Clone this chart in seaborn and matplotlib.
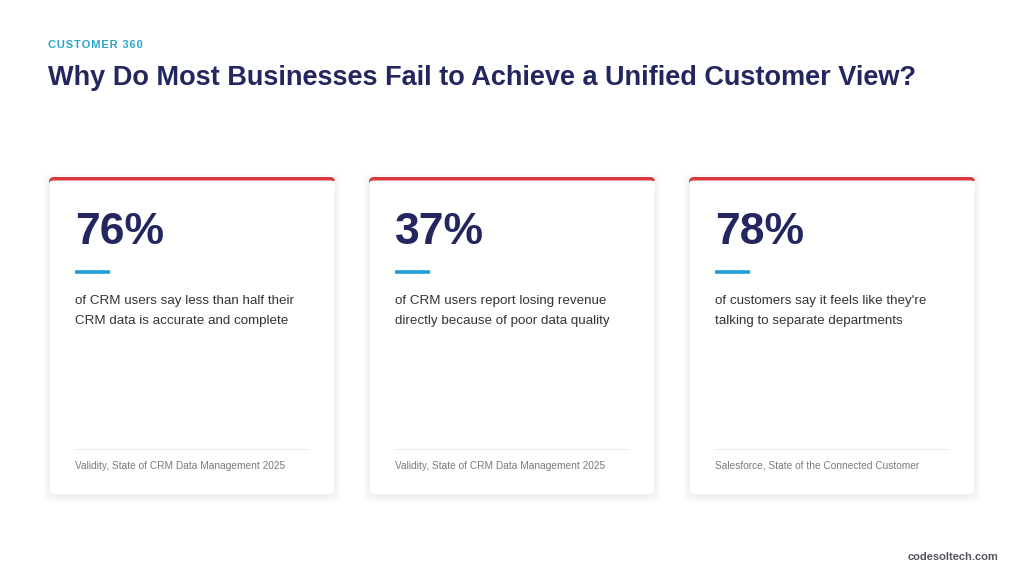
import matplotlib
matplotlib.use("Agg")
import matplotlib.pyplot as plt
from matplotlib.patches import FancyBboxPatch
import seaborn as sns

# =============================================================================
# DATA
# =============================================================================
EYEBROW = "CUSTOMER 360"
TITLE = "Why Do Most Businesses Fail to Achieve a Unified Customer View?"
STATS = ["76%", "37%", "78%"]
DESCRIPTIONS = [
    "of CRM users say less than half their\nCRM data is accurate and complete",
    "of CRM users report losing revenue\ndirectly because of poor data quality",
    "of customers say it feels like they're\ntalking to separate departments",
]
SOURCES = [
    "Validity, State of CRM Data Management 2025",
    "Validity, State of CRM Data Management 2025",
    "Salesforce, State of the Connected Customer",
]
FOOTER = "codesoltech.com"

NAVY = "#24275f"
TEAL = "#2ba6c6"
RED = "#d9393e"
BLUE = "#1d9ed8"
TEXT = "#333338"
GREY = "#7a7a80"

# =============================================================================
# FIGURE
# =============================================================================
sns.set_theme(style="white")
plt.rcParams["font.family"] = ["Liberation Sans", "DejaVu Sans"]

fig = plt.figure(figsize=(10.24, 5.84), dpi=100)
ax = fig.add_axes([0, 0, 1, 1])
ax.set_xlim(0, 1024)
ax.set_ylim(584, 0)
ax.axis("off")

# letter-spaced eyebrow label
ax.text(48, 45, "\u200a".join(EYEBROW), color=TEAL, fontsize=8, fontweight="bold",
        va="center")
ax.text(48, 78, TITLE, color=NAVY, fontsize=19.5, fontweight="bold", va="center")

card_x = [49, 369, 689]
card_w, card_top, card_bot = 286, 177, 495
for i, (stat, desc, src) in enumerate(zip(STATS, DESCRIPTIONS, SOURCES)):
    x0 = card_x[i]
    # soft shadow
    for k, a in enumerate([0.012, 0.015, 0.02]):
        pad = 6 - 2 * k
        ax.add_patch(FancyBboxPatch((x0 - pad, card_top - pad + 2), card_w + 2 * pad,
                                    card_bot - card_top + 2 * pad,
                                    boxstyle="round,pad=0,rounding_size=8",
                                    fc="black", ec="none", alpha=a, zorder=1))
    # red top strip (shows above card)
    ax.add_patch(FancyBboxPatch((x0, card_top), card_w, 20,
                                boxstyle="round,pad=0,rounding_size=5",
                                fc=RED, ec="none", zorder=2))
    ax.add_patch(FancyBboxPatch((x0, card_top + 4), card_w, card_bot - card_top - 4,
                                boxstyle="round,pad=0,rounding_size=5",
                                fc="white", ec="#eeeef2", lw=0.8, zorder=3))
    ax.add_patch(plt.Rectangle((x0 + 0.5, card_top + 4), card_w - 1, 8,
                               fc="white", ec="none", zorder=3.5))
    tx = x0 + 26
    ax.text(tx, 233, stat, color=NAVY, fontsize=32, fontweight="bold",
            va="center", zorder=4)
    ax.plot([tx, tx + 35], [272, 272], color=BLUE, lw=2.6,
            solid_capstyle="butt", zorder=4)
    ax.text(tx, 311, desc, color=TEXT, fontsize=9.6, va="center",
            linespacing=1.9, zorder=4)
    ax.plot([tx, tx + 233], [449, 449], color="#ececef", lw=0.8, zorder=4)
    ax.text(tx, 466, src, color=GREY, fontsize=7.3, va="center", zorder=4)

ax.text(998, 557, FOOTER, color="#555560", fontsize=8, fontweight="bold",
        ha="right", va="center")

fig.savefig("out.png", dpi=100, facecolor="white")
